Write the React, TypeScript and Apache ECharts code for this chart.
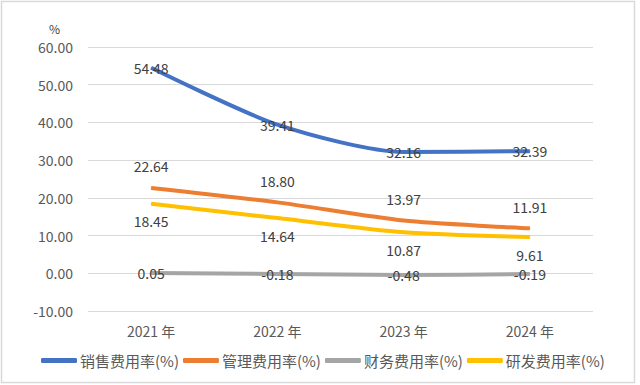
import React, { useEffect, useRef } from "react";
import * as echarts from "echarts";

const categories = ["2021 年", "2022 年", "2023 年", "2024 年"];
const salesRate = [54.48, 39.41, 32.16, 32.39];
const adminRate = [22.64, 18.8, 13.97, 11.91];
const financeRate = [0.05, -0.18, -0.48, -0.19];
const rdRate = [18.45, 14.64, 10.87, 9.61];
const seriesNames = ["销售费用率(%)", "管理费用率(%)", "财务费用率(%)", "研发费用率(%)"];

const FONT = "'Noto Sans CJK SC', 'Noto Sans', sans-serif";

export default function App() {
  const ref = useRef<HTMLDivElement>(null);
  useEffect(() => {
    document.body.style.margin = "0";
    const chart = echarts.init(ref.current!, null, { renderer: "svg" });
    const mk = (name: string, data: number[], color: string, pos: string, dist: number) => ({
      name,
      type: "line",
      data,
      smooth: 0.25,
      symbol: "circle",
      symbolSize: 1,
      showSymbol: true,
      itemStyle: { color },
      lineStyle: { color, width: 4 },
      label: {
        show: true,
        position: pos,
        distance: dist,
        color: "#404040",
        fontSize: 14,
        fontFamily: FONT,
        formatter: (p: any) => Number(p.value).toFixed(2),
      },
      z: 2,
    });
    chart.setOption({
      animation: false,
      backgroundColor: "#fff",
      textStyle: { fontFamily: FONT },
      graphic: [
        {
          type: "rect",
          shape: { x: 1.5, y: 1.5, width: 633, height: 381 },
          style: { fill: "none", stroke: "#d9d9d9", lineWidth: 1.5 },
          z: -1,
        },
      ],
      grid: { left: 88, right: 47, top: 47, bottom: 74, containLabel: false },
      legend: {
        top: 348,
        left: 36,
        width: 600,
        itemWidth: 36,
        itemHeight: 5,
        itemGap: 4,
        icon: "roundRect",
        textStyle: { color: "#595959", fontSize: 15, fontFamily: FONT, padding: [0, 0, 0, -2] },
        data: seriesNames,
      },
      xAxis: {
        type: "category",
        data: categories,
        boundaryGap: true,
        axisLine: { show: false },
        axisTick: { show: false },
        axisLabel: { color: "#595959", fontSize: 14, margin: 13, fontFamily: FONT },
      },
      yAxis: {
        type: "value",
        name: "%",
        nameLocation: "end",
        nameGap: 13,
        nameTextStyle: { color: "#404040", fontSize: 12, align: "right", padding: [0, 28, 0, 0] },
        min: -10,
        max: 60,
        interval: 10,
        axisLine: { show: false },
        axisTick: { show: false },
        splitLine: { lineStyle: { color: "#d9d9d9", width: 1 } },
        axisLabel: {
          color: "#595959",
          fontSize: 14,
          margin: 15,
          fontFamily: FONT,
          formatter: (v: number) => v.toFixed(2),
        },
      },
      series: [
        mk(seriesNames[0], salesRate, "#4472C4", "inside", 0),
        mk(seriesNames[1], adminRate, "#ED7D31", "top", 14),
        mk(seriesNames[2], financeRate, "#A5A5A5", "inside", 0),
        mk(seriesNames[3], rdRate, "#FFC000", "bottom", 10),
      ],
    });
    return () => chart.dispose();
  }, []);
  return <div ref={ref} style={{ width: 640, height: 385 }} />;
}
